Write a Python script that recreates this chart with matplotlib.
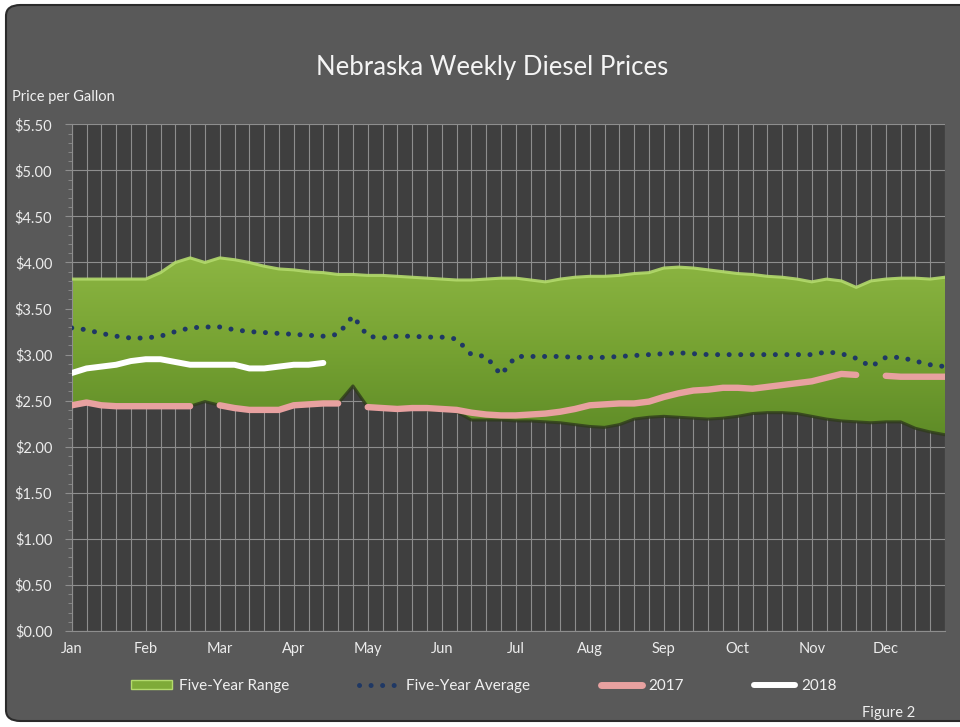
import numpy as np
import matplotlib
matplotlib.use("Agg")
import matplotlib.pyplot as plt
from matplotlib.patches import FancyBboxPatch, Patch
from matplotlib.lines import Line2D
from matplotlib.colors import LinearSegmentedColormap
from matplotlib.ticker import MultipleLocator, FixedLocator, FuncFormatter

plt.rcParams['font.family'] = ['Lato', 'DejaVu Sans']

# weekly positions (category axis, 60 slots)
months = ['Jan', 'Feb', 'Mar', 'Apr', 'May', 'Jun',
          'Jul', 'Aug', 'Sep', 'Oct', 'Nov', 'Dec']

range_high = [3.82, 3.82, 3.82, 3.82, 3.82, 3.82, 3.89, 4.00, 4.05, 4.00,
              4.05, 4.03, 4.00, 3.96, 3.93, 3.92, 3.90, 3.89, 3.87, 3.87,
              3.86, 3.86, 3.85, 3.84, 3.83, 3.82, 3.81, 3.81, 3.82, 3.83,
              3.83, 3.81, 3.79, 3.82, 3.84, 3.85, 3.85, 3.86, 3.88, 3.89,
              3.94, 3.95, 3.94, 3.92, 3.90, 3.88, 3.87, 3.85, 3.84, 3.82,
              3.79, 3.82, 3.80, 3.73, 3.80, 3.82, 3.83, 3.83, 3.82, 3.84]

range_low = [2.45, 2.48, 2.45, 2.44, 2.44, 2.44, 2.44, 2.44, 2.44, 2.49,
             2.45, 2.42, 2.40, 2.40, 2.40, 2.44, 2.46, 2.47, 2.47, 2.66,
             2.43, 2.42, 2.41, 2.41, 2.40, 2.40, 2.38, 2.29, 2.29, 2.29,
             2.28, 2.28, 2.27, 2.26, 2.24, 2.22, 2.21, 2.24, 2.30, 2.32,
             2.33, 2.32, 2.31, 2.30, 2.31, 2.33, 2.36, 2.37, 2.37, 2.36,
             2.33, 2.30, 2.28, 2.27, 2.26, 2.27, 2.27, 2.20, 2.16, 2.13]

five_year_avg = [3.29, 3.27, 3.23, 3.20, 3.18, 3.18, 3.20, 3.25, 3.29, 3.30,
                 3.30, 3.27, 3.25, 3.24, 3.23, 3.22, 3.21, 3.20, 3.22, 3.42,
                 3.20, 3.18, 3.20, 3.20, 3.19, 3.19, 3.17, 3.00, 2.98, 2.78,
                 2.98, 2.98, 2.98, 2.98, 2.97, 2.97, 2.97, 2.98, 2.99, 3.00,
                 3.01, 3.02, 3.01, 3.00, 3.00, 3.00, 3.00, 3.00, 3.00, 3.00,
                 3.00, 3.03, 3.01, 2.96, 2.87, 2.97, 2.97, 2.93, 2.89, 2.87]

y2017 = [2.45, 2.48, 2.45, 2.44, 2.44, 2.44, 2.44, 2.44, 2.44, None,
         2.45, 2.42, 2.40, 2.40, 2.40, 2.45, 2.46, 2.47, 2.47, None,
         2.43, 2.42, 2.41, 2.42, 2.42, 2.41, 2.40, 2.37, 2.35, 2.34,
         2.34, 2.35, 2.36, 2.38, 2.41, 2.45, 2.46, 2.47, 2.47, 2.49,
         2.54, 2.58, 2.61, 2.62, 2.64, 2.64, 2.63, 2.65, 2.67, 2.69,
         2.71, 2.75, 2.79, 2.78, None, 2.77, 2.76, 2.76, 2.76, 2.76]

y2018 = [2.80, 2.85, 2.87, 2.89, 2.93, 2.95, 2.95, 2.92, 2.89, 2.89,
         2.89, 2.89, 2.85, 2.85, 2.87, 2.89, 2.89, 2.91]

x = np.arange(len(range_high))
hi = np.array(range_high)
lo = np.array(range_low)
p17 = np.array([np.nan if v is None else v for v in y2017])

fig = plt.figure(figsize=(9.6, 7.27), dpi=100)
fig.patch.set_facecolor('white')
frame = FancyBboxPatch((6 / 960, 6 / 727), 980 / 960, 716 / 727,
                       boxstyle='round,pad=0,rounding_size=0.015',
                       transform=fig.transFigure, facecolor='#595959',
                       edgecolor='#2b2b2b', linewidth=1.5, zorder=-10)
fig.patches.append(frame)

ax = fig.add_axes([71.7 / 960, 1 - 631 / 727, (945 - 71.7) / 960, (631 - 124.3) / 727])
ax.set_facecolor('#3f3f3f')
ax.set_axisbelow(True)

# five year range band with vertical gradient
band = ax.fill_between(x, lo, hi, facecolor='none', edgecolor='none', zorder=2)
grad_cmap = LinearSegmentedColormap.from_list('g', ['#5c8926', '#76a232', '#8db643'])
grad = np.linspace(0, 1, 256).reshape(-1, 1)
img = ax.imshow(grad, extent=[0, x[-1], 2.0, 4.1], origin='lower', aspect='auto',
                cmap=grad_cmap, zorder=2, interpolation='bicubic')
img.set_clip_path(band.get_paths()[0], transform=ax.transData)
ax.plot(x, lo, color='#2f3b1c', lw=2.2, zorder=2.5, alpha=0.8)
ax.plot(x, hi, color='#b3da6c', lw=2.2, zorder=2.6, alpha=0.9)

ax.plot(x, five_year_avg, color='#1f3864', lw=3.6, linestyle=(0, (0.01, 2.3)),
        dash_capstyle='round', zorder=4)
ax.plot(x, p17, color='#e8a1a0', lw=4.6, solid_capstyle='round', zorder=3)
ax.plot(np.arange(len(y2018)), y2018, color='white', lw=4.3,
        solid_capstyle='round', zorder=5)

ax.set_xlim(0, x[-1])
ax.set_ylim(0, 5.5)

ax.xaxis.set_major_locator(FixedLocator(np.arange(0, 60, 5)))
ax.set_xticklabels(months)
ax.xaxis.set_minor_locator(FixedLocator(x))
ax.yaxis.set_major_locator(MultipleLocator(0.5))
ax.yaxis.set_minor_locator(MultipleLocator(0.1))
ax.yaxis.set_major_formatter(FuncFormatter(lambda v, p: f'${v:.2f}'))

ax.grid(True, which='both', axis='x', color='#8e8e8e', lw=0.8)
ax.grid(True, which='major', axis='y', color='#8e8e8e', lw=0.8)

ax.tick_params(axis='x', which='both', length=0, colors='#ececec', labelsize=10.5, pad=8)
ax.tick_params(axis='y', which='major', length=5, color='#8e8e8e', colors='#ececec',
               labelsize=10.5, pad=9)
ax.tick_params(axis='y', which='minor', length=3, color='#8e8e8e')
for lbl in ax.get_yticklabels() + ax.get_xticklabels():
    lbl.set_color('#ececec')
for side in ['top', 'right']:
    ax.spines[side].set_visible(False)
for side in ['left', 'bottom']:
    ax.spines[side].set_color('#8e8e8e')
    ax.spines[side].set_linewidth(0.8)

fig.text(492 / 960, 1 - 67 / 727, 'Nebraska Weekly Diesel Prices', ha='center', va='center',
         fontsize=18.5, color='#f4f4f4')
fig.text(12 / 960, 1 - 97 / 727, 'Price per Gallon', ha='left', va='center',
         fontsize=10.5, color='#f0f0f0')
fig.text(915 / 960, 1 - 713 / 727, 'Figure 2', ha='right', va='center',
         fontsize=10.5, color='#f0f0f0')

handles = [
    Patch(facecolor='#7fab38', edgecolor='#b3da6c', linewidth=1),
    Line2D([], [], color='#1f3864', lw=3.6, linestyle=(0, (0.01, 2.3)), dash_capstyle='round'),
    Line2D([], [], color='#e8a1a0', lw=5, solid_capstyle='round'),
    Line2D([], [], color='white', lw=4.3, solid_capstyle='round'),
]
labels = ['Five-Year Range', 'Five-Year Average', '2017', '2018']
leg = fig.legend(handles, labels, loc='center', bbox_to_anchor=(484 / 960, 1 - 686 / 727),
                 ncol=4, frameon=False, fontsize=11, handlelength=2.7, handleheight=0.6,
                 handletextpad=0.4, columnspacing=4.6, labelcolor='#f0f0f0')

fig.savefig('out.png', dpi=100, facecolor=fig.get_facecolor())
